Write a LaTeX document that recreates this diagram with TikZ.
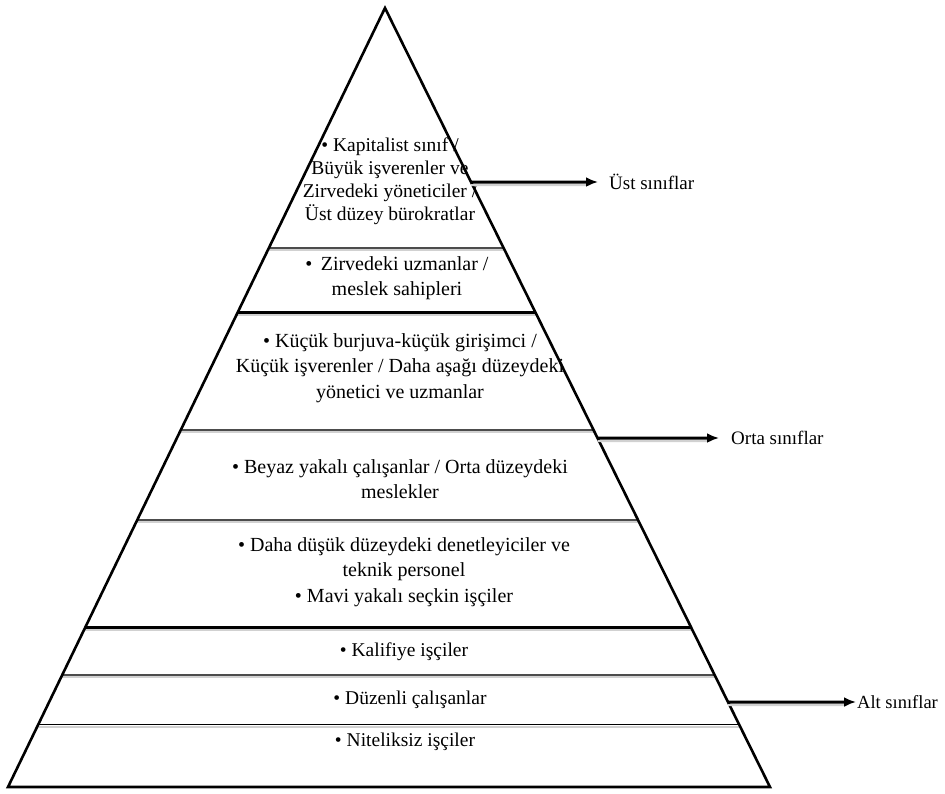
\documentclass[tikz,border=0pt]{standalone}
\usepackage{fontspec}
\setmainfont{Liberation Serif}
\usetikzlibrary{arrows,arrows.meta,calc,positioning}
\tikzstyle{tier}=[align=center,font=\fontsize{20}{25.5}\selectfont,inner sep=0pt]
\tikzstyle{small}=[tier,font=\fontsize{19.5}{22}\selectfont]
\tikzstyle{cls}=[anchor=west,font=\fontsize{19}{22}\selectfont,inner sep=1pt]
\tikzstyle{edge}=[line width=2.6pt,line join=miter]
\tikzstyle{lineshadow}=[preaction={draw=black!18,line width=2pt,transform canvas={yshift=-2.5pt}}]
\tikzstyle{thin}=[lineshadow,draw=black!70,line width=1.6pt]
\tikzstyle{heavy}=[lineshadow,draw=black,line width=3pt]
\tikzstyle{arrow}=[draw,-{Latex[length=12pt,width=10pt]},line width=3pt]
\tikzstyle{arrowshadow}=[draw=black!18,line width=2pt,transform canvas={yshift=-3pt}]
\begin{document}
\begin{tikzpicture}[x=1pt,y=-1pt]
  \useasboundingbox (0,0) rectangle (945,793);

  % pyramid
  \coordinate (top) at (385,8);
  \coordinate (bl) at (8,787);
  \coordinate (br) at (770,787);

  % layers
  \draw[thin]  ($(top)!0.308!(bl)$) -- ($(top)!0.308!(br)$);
  \draw[heavy] ($(top)!0.3915!(bl)$) -- ($(top)!0.3915!(br)$);
  \draw[thin]  ($(top)!0.5417!(bl)$) -- ($(top)!0.5417!(br)$);
  \draw[thin]  ($(top)!0.657!(bl)$) -- ($(top)!0.657!(br)$);
  \draw[heavy] ($(top)!0.7946!(bl)$) -- ($(top)!0.7946!(br)$);
  \draw[thin]  ($(top)!0.856!(bl)$) -- ($(top)!0.856!(br)$);
  \draw[thin,draw=black] ($(top)!0.920!(bl)$) -- ($(top)!0.920!(br)$);

  \draw[edge] (top) -- (br) -- (bl) -- cycle;

  \node[tier,font=\fontsize{19.5}{23}\selectfont] at (390,181) (kapital) {• Kapitalist sınıf /\\Büyük işverenler ve\\Zirvedeki yöneticiler /\\Üst düzey bürokratlar};
  \node[tier] at (397,278) (uzman) {•\, Zirvedeki uzmanlar /\\meslek sahipleri};
  \node[tier] at (400,368) (burjuva) {• Küçük burjuva-küçük girişimci /\\Küçük işverenler / Daha aşağı düzeydeki\\yönetici ve uzmanlar};
  \node[tier] at (400,479) (beyaz) {• Beyaz yakalı çalışanlar / Orta düzeydeki\\meslekler};
  \node[tier] at (404,572) (denet) {• Daha düşük düzeydeki denetleyiciler ve\\teknik personel\\• Mavi yakalı seçkin işçiler};
  \node[small] at (404,652) (kalifiye) {• Kalifiye işçiler};
  \node[small] at (410,700) (duzenli) {• Düzenli çalışanlar};
  \node[small] at (405,742) (nitelik) {• Niteliksiz işçiler};

  % classes
  \node[cls] at (608,182) (ust) {Üst sınıflar};
  \node[cls] at (730,438) (orta) {Orta sınıflar};
  \node[cls,font=\fontsize{18.5}{22}\selectfont] at (856,702) (alt) {Alt sınıflar};

  \coordinate (ust-e) at ($(top)!0.2234!(br)$);
  \coordinate (orta-e) at ($(top)!0.552!(br)$);
  \coordinate (alt-e) at ($(top)!0.891!(br)$);
  \draw[arrowshadow,shorten >=22pt] (ust-e) -- (ust.west);
  \draw[arrowshadow,shorten >=23pt] (orta-e) -- (orta.west);
  \draw[arrowshadow,shorten >=12pt] (alt-e) -- (alt.west);
  \draw[arrow,shorten >=10pt] (ust-e) -- (ust.west);
  \draw[arrow,shorten >=11pt] (orta-e) -- (orta.west);
  \draw[arrow] (alt-e) -- (alt.west);
\end{tikzpicture}
\end{document}
